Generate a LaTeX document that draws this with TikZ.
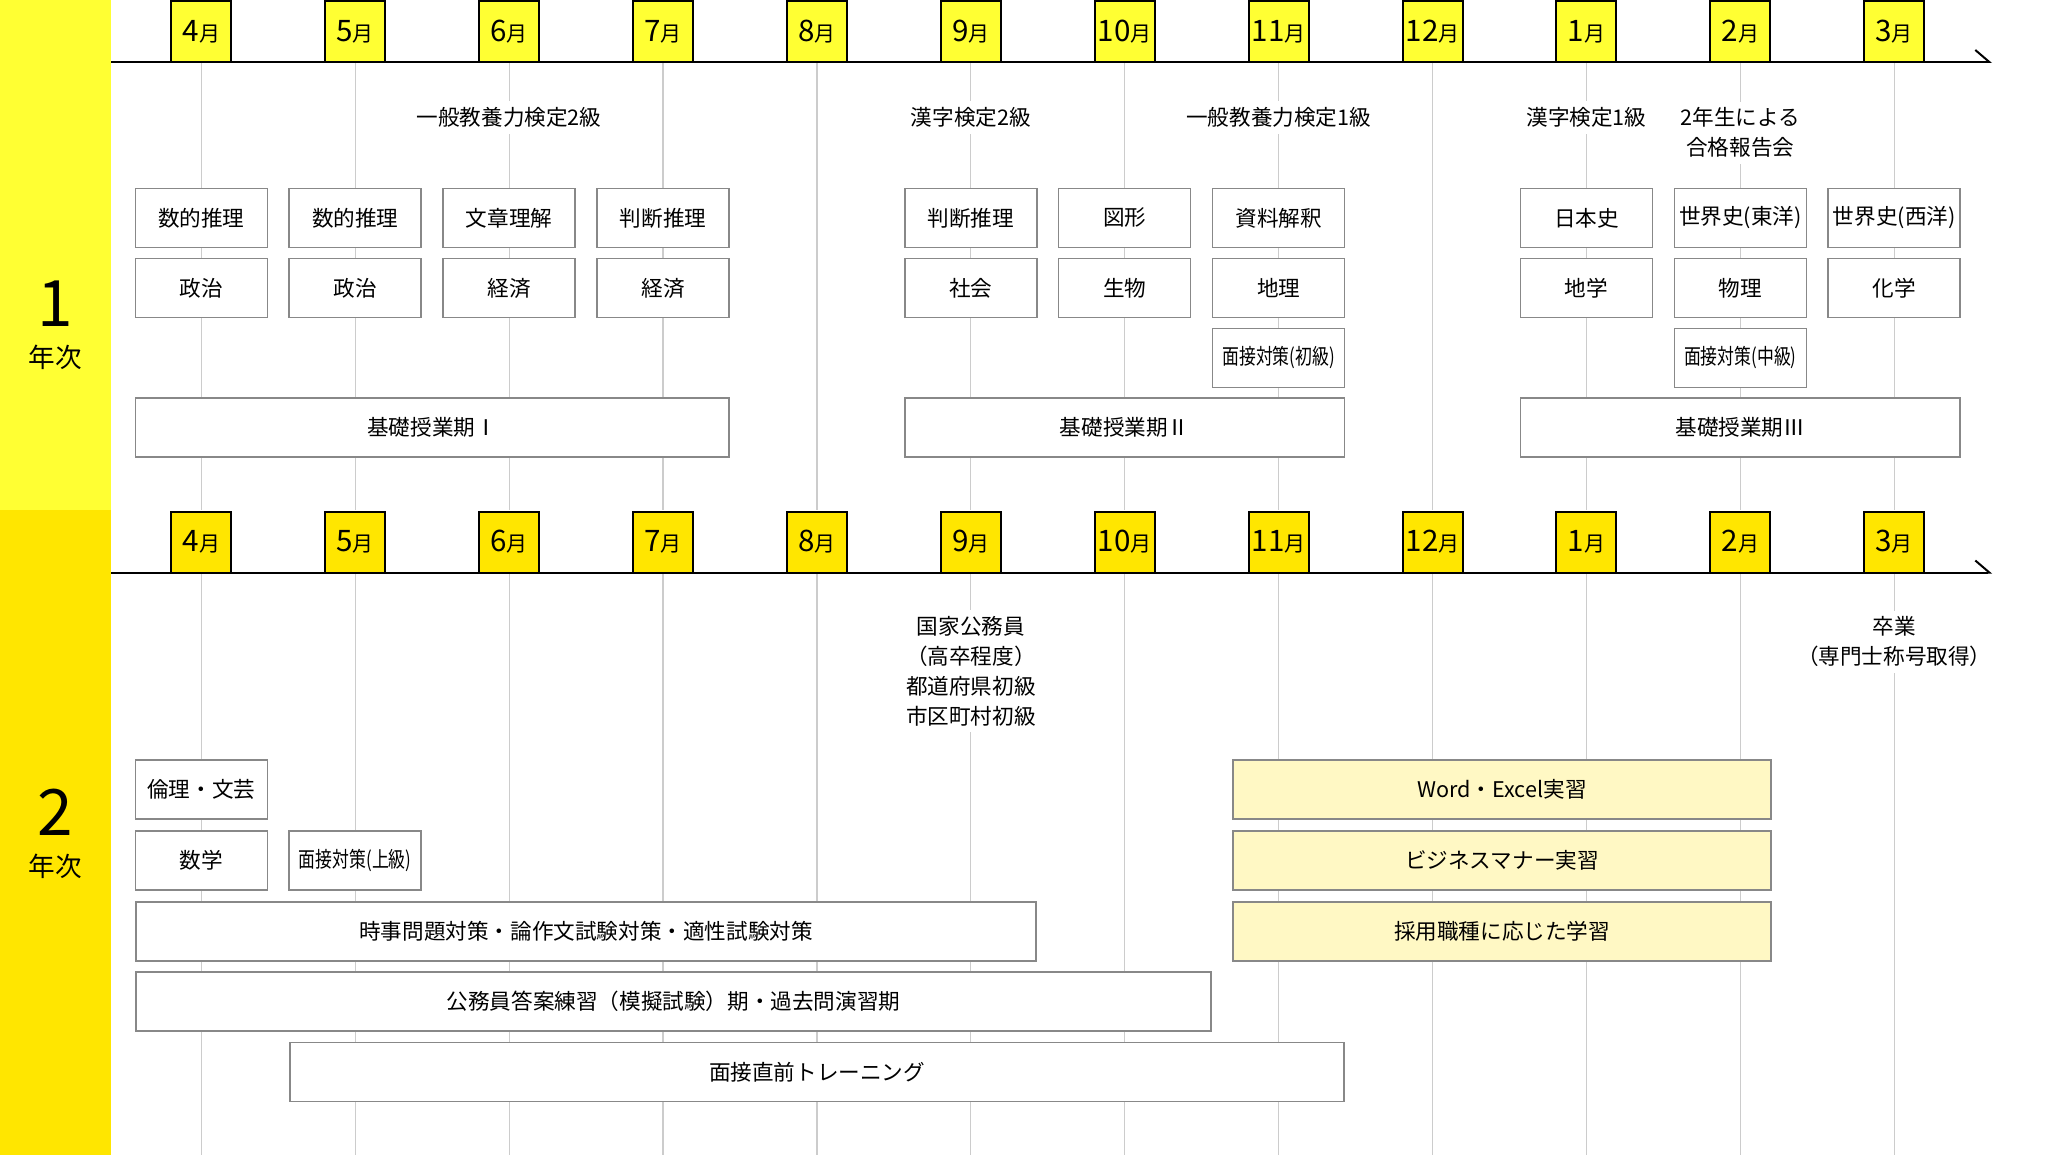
\documentclass[tikz,border=0pt]{standalone}
\usepackage{fontspec}
\setmainfont{Noto Sans CJK JP}
\usepackage{tikz}
\usetikzlibrary{positioning, arrows.meta, calc}
\usepackage{xcolor}
\definecolor{jikanYellow}{HTML}{FFFF33}
\definecolor{jikanGold}{HTML}{FFE600}
\definecolor{jikanBorder}{HTML}{888888}
\definecolor{jikanGrid}{HTML}{CCCCCC}
\definecolor{jikanCream}{HTML}{FFF8C4}
\newcommand{\tsukiMei}[1]{{\fontsize{14.8}{16}\selectfont #1}{\fontsize{10.5}{12}\selectfont 月}}

\begin{document}
\begin{tikzpicture}[x=0.5pt, y=-0.5pt, font=\fontsize{10.8}{15}\selectfont,
    tsuki/.style={draw=black, line width=1pt, minimum width=30pt, minimum height=30.5pt, inner sep=0pt},
    koma/.style={draw=jikanBorder, line width=0.75pt, fill=white, minimum width=66pt, minimum height=29.5pt, inner sep=0pt},
    midashi/.style={fill=white, inner sep=3pt, align=center},
    nenji/.style={font=\fontsize{32}{32}\selectfont, inner sep=0pt},
    nenjiSub/.style={font=\fontsize{13.3}{14}\selectfont, inner sep=0pt}]
  \useasboundingbox (0,0) rectangle (2072,1155);
  % 左の帯
  \fill[jikanYellow] (0,0) rectangle (111,510);
  \fill[jikanGold] (0,510) rectangle (111,1155);
  \node[nenji] (nen1) at (55.5,304) {1};
  \node[nenjiSub] (nen1b) at (55.5,357) {年次};
  \node[nenji] (nen2) at (55.5,812) {2};
  \node[nenjiSub] (nen2b) at (55.5,866) {年次};

  % 月と縦線
  \foreach \i/\tsuki in {0/4,1/5,2/6,3/7,4/8,5/9,6/10,7/11,8/12,9/1,10/2,11/3} {
    \pgfmathsetmacro{\x}{201.3+153.9*\i}
    \draw[jikanGrid, line width=0.6pt] (\x,62) -- (\x,510);
    \draw[jikanGrid, line width=0.6pt] (\x,572.5) -- (\x,1155);
    \node[tsuki, fill=jikanYellow] (t1-\i) at (\x,31.5) {\tsukiMei{\tsuki}};
    \node[tsuki, fill=jikanGold] (t2-\i) at (\x,542) {\tsukiMei{\tsuki}};
  }
  \draw[line width=1pt, -{Straight Barb[left, length=7pt, width=12pt]}] (111,62) -- (1992,62);
  \draw[line width=1pt, -{Straight Barb[left, length=7pt, width=12pt]}] (111,572.5) -- (1992,572.5);

  % 1年次
  \node[midashi] (ippan2) at (509.1,117.5) {一般教養力検定2級};
  \node[midashi] (kanji2) at (970.8,117.5) {漢字検定2級};
  \node[midashi] (ippan1) at (1278.6,117.5) {一般教養力検定1級};
  \node[midashi] (kanji1) at (1586.4,117.5) {漢字検定1級};
  \node[midashi] (houkoku) at (1740.3,132.8) {2年生による\\合格報告会};
  \foreach \i/\fila/\kamoku in {0/1/数的推理, 1/1/数的推理, 2/1/文章理解, 3/1/判断推理,
      5/1/判断推理, 6/1/図形, 7/1/資料解釈, 9/1/日本史, 10/1/世界史(東洋), 11/1/世界史(西洋),
      0/2/政治, 1/2/政治, 2/2/経済, 3/2/経済, 5/2/社会, 6/2/生物, 7/2/地理,
      9/2/地学, 10/2/物理, 11/2/化学,
      7/3/{\scalebox{0.78}[1]{面接対策(初級)}}, 10/3/{\scalebox{0.78}[1]{面接対策(中級)}}} {
    \pgfmathsetmacro{\x}{201.3+153.9*\i}
    \pgfmathsetmacro{\y}{148+70*\fila}
    \node[koma] (k1-\fila-\i) at (\x,\y) {\kamoku};
  }
  \foreach \a/\b/\num in {0/3/Ⅰ, 5/7/Ⅱ, 9/11/Ⅲ} {
    \pgfmathsetmacro{\x}{201.3+153.9*(\a+\b)/2}
    \pgfmathsetmacro{\w}{(153.9*(\b-\a)+132)/2}
    \node[koma, minimum width=\w pt] (kiso-\a) at (\x,427.5) {基礎授業期\num};
  }

  % 2年次
  \node[midashi] (koumuin) at (970.8,671) {国家公務員\\（高卒程度）\\都道府県初級\\市区町村初級};
  \node[midashi] (sotsugyo) at (1894.2,641.7) {卒業\\（専門士称号取得）};
  \node[koma] (k2-1-0) at (201.3,789.5) {倫理・文芸};
  \node[koma] (k2-2-0) at (201.3,860.5) {数学};
  \node[koma] (k2-2-1) at (355.2,860.5) {\scalebox{0.78}[1]{面接対策(上級)}};
  \foreach \xa/\xb/\y/\relleno/\nombre/\kamoku in {
      1233/1771/789.5/jikanCream/word/Word・Excel実習,
      1233/1771/860.5/jikanCream/manner/ビジネスマナー実習,
      1233/1771/931.5/jikanCream/shokushu/採用職種に応じた学習,
      136/1036/931.5/white/jiji/時事問題対策・論作文試験対策・適性試験対策,
      136/1211/1001.5/white/toan/公務員答案練習（模擬試験）期・過去問演習期,
      290/1344/1072/white/mensetsu/面接直前トレーニング} {
    \pgfmathsetmacro{\x}{(\xa+\xb)/2}
    \pgfmathsetmacro{\w}{(\xb-\xa)/2}
    \node[koma, fill=\relleno, minimum width=\w pt] (\nombre) at (\x,\y) {\kamoku};
  }
\end{tikzpicture}
\end{document}
